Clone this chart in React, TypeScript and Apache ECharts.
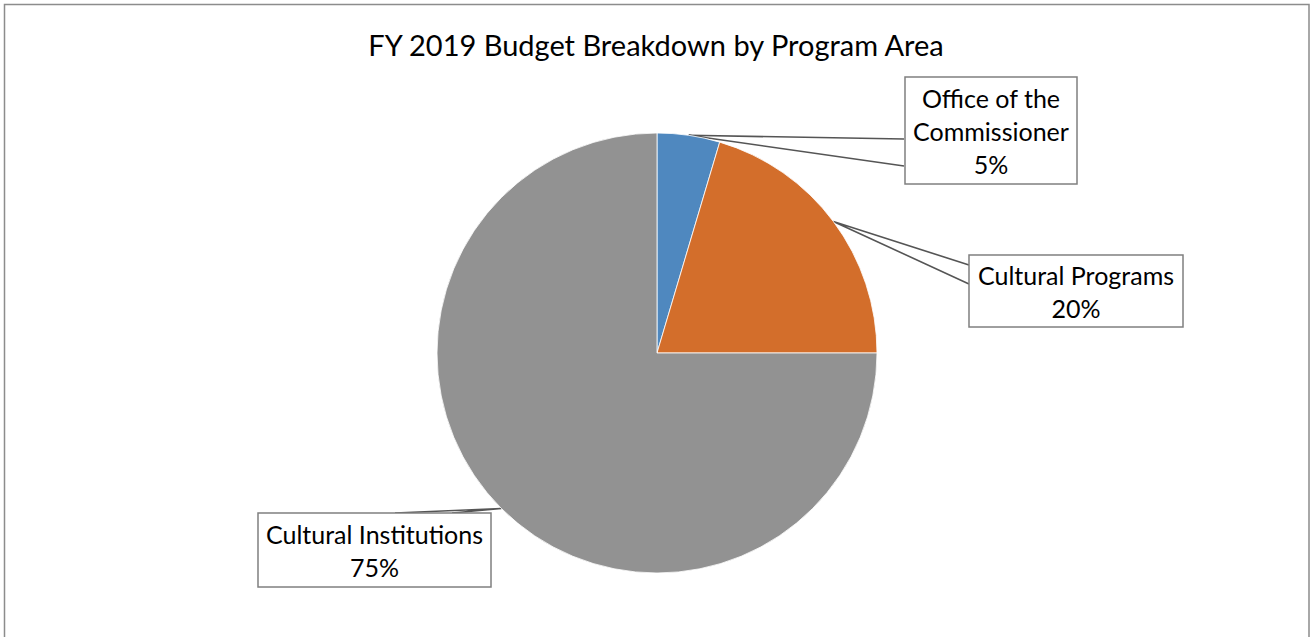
import React, { useEffect, useRef } from "react";
import * as echarts from "echarts";

const categories = ["Office of the Commissioner", "Cultural Programs", "Cultural Institutions"];
const labelText = [["Office of the", "Commissioner"], ["Cultural Programs"], ["Cultural Institutions"]];
const shares = [4.6, 20.4, 75.0];
const colors = ["#4F88BF", "#D36E2B", "#929292"];
const titleText = "FY 2019 Budget Breakdown by Program Area";

// callout box layout (center x, center y, width, height) and leader anchor points on the box
const boxes = [
  { cx: 991, cy: 130.5, w: 172, h: 107, a: [904, 139], b: [904, 166] },
  { cx: 1076, cy: 291, w: 214, h: 72, a: [969, 265], b: [969, 284] },
  { cx: 374.5, cy: 550, w: 233, h: 74, a: [395, 513], b: [452, 513] },
];

const CENTER: [number, number] = [657, 353];
const RADIUS = 220;
const FONT = "Lato, 'Open Sans', sans-serif";

export default function App() {
  const ref = useRef<HTMLDivElement>(null);
  useEffect(() => {
    if (!ref.current) return;
    const chart = echarts.init(ref.current, undefined, { renderer: "svg" });
    const total = shares.reduce((s, v) => s + v, 0);
    const midAngles: number[] = [];
    let acc = 0;
    shares.forEach((v) => {
      midAngles.push(((acc + v / 2) / total) * 2 * Math.PI);
      acc += v;
    });
    const PAD = 3;
    chart.setOption({
      animation: false,
      title: {
        text: titleText,
        left: "center",
        top: 25,
        textStyle: { fontFamily: FONT, fontSize: 29, fontWeight: "normal", color: "#000" },
      },
      graphic: [
        {
          type: "rect",
          shape: { x: 4.5, y: 4.5, width: 1304.5, height: 700 },
          style: { fill: "none", stroke: "#8c8c8c", lineWidth: 1.5 },
          silent: true,
        },
      ],
      series: [
        {
          type: "pie",
          center: CENTER,
          radius: RADIUS,
          startAngle: 90,
          clockwise: true,
          avoidLabelOverlap: false,
          itemStyle: { borderColor: "#ffffff", borderWidth: 0.8 },
          label: {
            show: true,
            position: "outside",
            fontFamily: FONT,
            fontSize: 25,
            lineHeight: 33,
            color: "#000",
            backgroundColor: "#fff",
            borderColor: "#7f7f7f",
            borderWidth: 1.5,
            padding: [PAD, 0],
            align: "center",
            formatter: (p: any) =>
              labelText[p.dataIndex].join("\n") + "\n" + Math.round(p.percent) + "%",
          },
          labelLine: {
            show: true,
            length: 10,
            length2: 10,
            lineStyle: { color: "#555555", width: 1.6 },
          },
          labelLayout: (p: any) => {
            const i = p.dataIndex;
            const bx = boxes[i];
            const ang = midAngles[i];
            const px = CENTER[0] + RADIUS * Math.sin(ang);
            const py = CENTER[1] - RADIUS * Math.cos(ang);
            return {
              x: bx.cx,
              y: bx.cy,
              align: "center",
              verticalAlign: "middle",
              labelLinePoints: [bx.a, [px, py], bx.b],
            };
          },
          data: categories.map((name, i) => ({
            name,
            value: shares[i],
            itemStyle: { color: colors[i] },
            label: {
              width: boxes[i].w - 1.5,
              height: boxes[i].h - 2 * PAD - 1.5,
            },
          })),
        },
      ],
    });
    return () => chart.dispose();
  }, []);
  return (
    <div
      ref={ref}
      style={{ position: "absolute", left: 0, top: 0, width: 1312, height: 637, background: "#fff" }}
    />
  );
}
